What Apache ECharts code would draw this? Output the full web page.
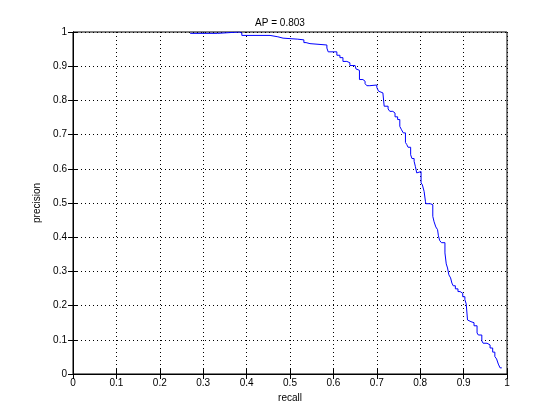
<!DOCTYPE html>
<html>
<head>
<meta charset="utf-8">
<script src="https://cdn.jsdelivr.net/npm/echarts@6/dist/echarts.min.js"></script>
<style>
html,body{margin:0;padding:0;background:#fff;}
#chart{width:560px;height:420px;}
</style>
</head>
<body>
<div id="chart"></div>
<script>
var titleText = 'AP = 0.803';
var xName = 'recall';
var yName = 'precision';
var xTicks = [0,0.1,0.2,0.3,0.4,0.5,0.6,0.7,0.8,0.9,1];
var yTicks = [0,0.1,0.2,0.3,0.4,0.5,0.6,0.7,0.8,0.9,1];

// step segments: recall where the segment begins, and its precision
var recall = [0.270,0.333,0.383,0.389,0.454,0.472,0.484,0.518,0.532,0.537,0.546,0.585,0.588,0.608,0.615,
0.622,0.631,0.638,0.650,0.652,0.655,0.660,0.668,0.673,0.677,0.684,0.700,0.704,0.707,0.714,0.717,0.726,0.730,
0.737,0.742,0.748,0.753,0.757,0.761,0.766,0.769,0.772,0.778,0.781,0.786,0.789,0.792,0.794,0.802,0.805,0.809,
0.812,0.813,0.823,0.829,0.832,0.836,0.840,0.842,0.845,0.849,0.857,0.860,0.863,0.866,0.870,0.873,0.876,0.881,
0.887,0.892,0.898,0.903,0.906,0.909,0.912,0.917,0.924,0.931,0.934,0.942,0.945,0.954,0.961,0.967,0.972,0.976,
0.980,0.984,0.988];
var precision = [0.996,1.000,0.997,0.990,0.986,0.982,0.979,0.977,0.969,0.966,0.962,0.953,0.942,0.932,0.925,
0.914,0.910,0.902,0.898,0.892,0.888,0.861,0.856,0.849,0.843,0.845,0.838,0.827,0.822,0.820,0.783,0.775,0.768,
0.763,0.752,0.744,0.724,0.714,0.705,0.677,0.671,0.663,0.641,0.630,0.622,0.606,0.588,0.592,0.559,0.553,0.534,
0.505,0.498,0.495,0.461,0.445,0.430,0.422,0.404,0.390,0.384,0.354,0.322,0.310,0.290,0.281,0.266,0.258,0.249,
0.241,0.236,0.226,0.217,0.205,0.158,0.153,0.150,0.141,0.120,0.114,0.097,0.090,0.085,0.076,0.064,0.051,0.044,
0.029,0.018,0.018];

var pts = recall.map(function(r,i){return [r, precision[i]];});
var FONT = 'Liberation Sans, Arial, Helvetica, sans-serif';
var dotted = {color:'#000', width:1, type:[1,3]};

function fmt(v){ return String(Math.round(v*10)/10); }

var chart = echarts.init(document.getElementById('chart'), null, {renderer:'canvas'});
chart.setOption({
  animation:false,
  backgroundColor:'#fff',
  title:{text:titleText, left:'center', top:13, textStyle:{fontFamily:FONT, fontSize:10, fontWeight:'normal', color:'#000'}},
  grid:{left:73, right:53, top:32, bottom:46, show:true, borderColor:'#000', borderWidth:1, backgroundColor:'#fff'},
  xAxis:[{
    type:'value', min:0, max:1, interval:0.1, position:'bottom',
    name:xName, nameLocation:'middle', nameGap:19,
    nameTextStyle:{fontFamily:FONT, fontSize:10, color:'#000'},
    axisLine:{show:true, lineStyle:{color:'#000'}},
    axisTick:{show:true, inside:true, length:5, lineStyle:{color:'#000'}},
    axisLabel:{fontFamily:FONT, fontSize:10, color:'#000', margin:4, formatter:fmt},
    splitLine:{show:true, lineStyle:dotted}
  },{
    type:'value', min:0, max:1, interval:0.1, position:'top',
    axisLine:{show:true, lineStyle:{color:'#000'}},
    axisTick:{show:true, inside:true, length:5, lineStyle:{color:'#000'}},
    axisLabel:{show:false}, splitLine:{show:false}
  }],
  yAxis:[{
    type:'value', min:0, max:1, interval:0.1, position:'left',
    name:yName, nameLocation:'middle', nameGap:21,
    nameTextStyle:{fontFamily:FONT, fontSize:10, color:'#000'},
    axisLine:{show:true, lineStyle:{color:'#000'}},
    axisTick:{show:true, inside:true, length:5, lineStyle:{color:'#000'}},
    axisLabel:{fontFamily:FONT, fontSize:10, color:'#000', margin:6, formatter:fmt},
    splitLine:{show:true, lineStyle:dotted}
  },{
    type:'value', min:0, max:1, interval:0.1, position:'right',
    axisLine:{show:true, lineStyle:{color:'#000'}},
    axisTick:{show:true, inside:true, length:5, lineStyle:{color:'#000'}},
    axisLabel:{show:false}, splitLine:{show:false}
  }],
  series:[{
    type:'line', data:pts, step:'end', showSymbol:false, symbol:'none',
    lineStyle:{color:'#0000ff', width:1}, xAxisIndex:0, yAxisIndex:0, z:5
  }]
});
</script>
</body>
</html>
